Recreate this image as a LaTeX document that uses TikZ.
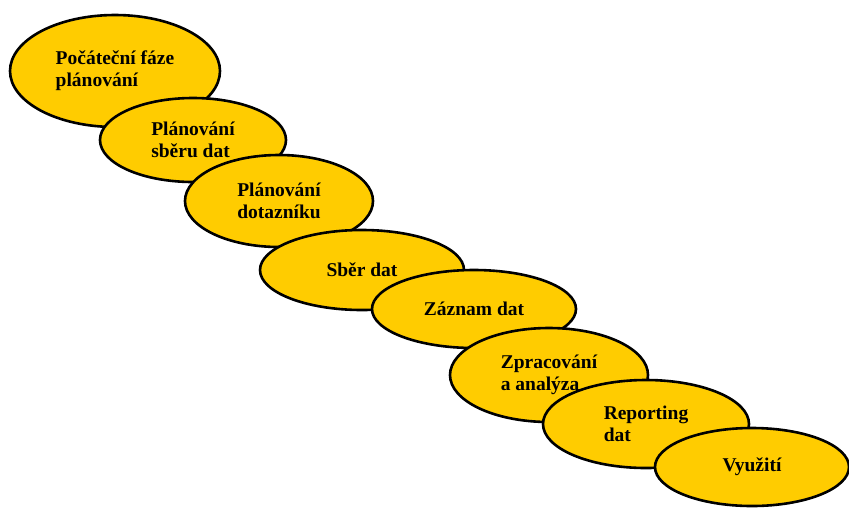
\documentclass[tikz,border=0pt]{standalone}
\usepackage{fontspec}
\setmainfont{Liberation Serif}
\usepackage{tikz}
\usetikzlibrary{shapes.geometric}
\definecolor{phase}{RGB}{255,204,0}
\tikzset{
  pnode/.style={ellipse,draw,line width=2.6pt,fill=phase,inner sep=0pt,align=left,font=\fontsize{19.5}{22}\selectfont\bfseries}
}

\begin{document}
\begin{tikzpicture}[x=1pt,y=-1pt]
\useasboundingbox (0,0) rectangle (849,507);
\node[pnode,minimum width=210pt,minimum height=112pt] (PF) at (115,71) {Počáteční fáze\\plánování};
\node[pnode,minimum width=186pt,minimum height=84pt] (PS) at (193,140) {Plánování\\sběru dat};
\node[pnode,minimum width=188pt,minimum height=92pt] (PD) at (279,201) {Plánování\\dotazníku};
\node[pnode,minimum width=204pt,minimum height=80pt] (SD) at (362,270) {Sběr dat};
\node[pnode,minimum width=204pt,minimum height=78pt] (ZD) at (474,309) {Záznam dat};
\node[pnode,minimum width=198pt,minimum height=94pt] (ZA) at (549,375) {Zpracování\\a analýza};
\node[pnode,minimum width=206pt,minimum height=88pt] (RD) at (646,424) {Reporting\\dat};
\node[pnode,minimum width=194pt,minimum height=78pt] (VY) at (752,467) {Využití};
\end{tikzpicture}
\end{document}
